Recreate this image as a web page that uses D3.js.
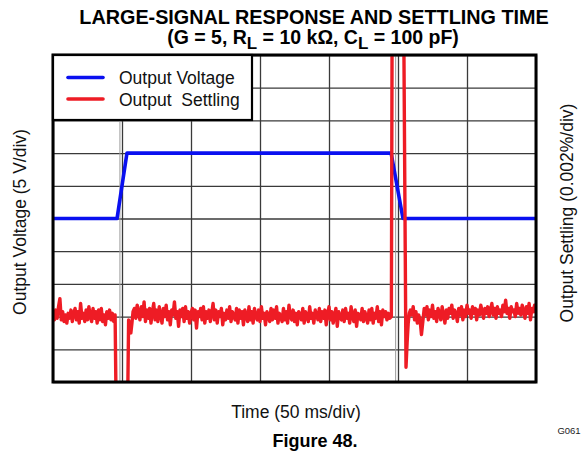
<!DOCTYPE html>
<html><head><meta charset="utf-8">
<script src="https://cdn.jsdelivr.net/npm/d3@7"></script>
<style>
html,body{margin:0;padding:0;background:#fff;}
text{font-family:"Liberation Sans",Arial,sans-serif;}
</style></head>
<body>
<script>
// ---- data ----
const timeTicks = [0, 50, 100, 150, 200, 250, 300, 350];           // ms (50 ms/div)
const voltTicks = [-25, -20, -15, -10, -5, 0, 5, 10, 15, 20, 25];  // V (5 V/div)
const triggerMarks = [48.5, 248.3];                                 // ms

const voltTime = [0, 46.4, 53.6, 245, 253.6, 350];
const voltValue = [0, 0, 10, 10, 0, 0];

// Output settling, sample times (ms)
const settleTime = [
  0,1,2,3,4,5,6,7,8,9,10,11,12,13,14,15,16,17,18,19,20,21,22,23,24,25,26,27,28,29,
  30,31,32,33,34,35,36,37,38,39,40,41,42,43,44,45,
  45.8,54.0,54.8,55.6,56.4,57.2,58,
  59,60,61,62,63,64,65,66,67,68,69,70,71,72,73,74,75,76,77,78,79,80,81,82,83,84,85,86,87,88,
  89,90,91,92,93,94,95,96,97,98,99,100,101,102,103,104,105,106,107,108,109,110,111,112,113,114,115,116,117,118,
  119,120,121,122,123,124,125,126,127,128,129,130,131,132,133,134,135,136,137,138,139,140,141,142,143,144,145,146,147,148,
  149,150,151,152,153,154,155,156,157,158,159,160,161,162,163,164,165,166,167,168,169,170,171,172,173,174,175,176,177,178,
  179,180,181,182,183,184,185,186,187,188,189,190,191,192,193,194,195,196,197,198,199,200,201,202,203,204,205,206,207,208,
  209,210,211,212,213,214,215,216,217,218,219,220,221,222,223,224,225,226,227,228,229,230,231,232,233,234,235,236,237,238,
  239,240,241,242,243,244,
  245.2,245.8,254.0,255.8,256.6,257.4,258.2,
  259,260,261,262,263,264,265,266,267,268,269,270,271,272,273,274,275,276,277,278,279,280,281,282,283,284,285,286,287,288,
  289,290,291,292,293,294,295,296,297,298,299,300,301,302,303,304,305,306,307,308,309,310,311,312,313,314,315,316,317,318,
  319,320,321,322,323,324,325,326,327,328,329,330,331,332,333,334,335,336,337,338,339,340,341,342,343,344,345,346,347,348,
  349,350
];
// Output settling values (units of 0.0001 %)
const settleValue = [
  2,-2,4,-1,6,11,-2,3,-3,1,-4,2,-1,4,-3,2,5,-2,3,-4,8,-1,2,-3,4,-2,6,0,-3,5,
  -1,3,-4,4,-2,5,-3,1,-5,3,-1,4,-2,2,-3,1,
  -60,-60,-2,-7,-10,-4,3,
  5,-1,7,2,-2,6,0,9,-3,4,-1,5,-4,3,8,-2,4,-3,6,1,-4,5,0,7,-2,3,-5,4,1,9,
  -1,3,-6,4,0,5,-3,6,-1,3,-4,2,5,-2,4,-7,3,0,5,-2,6,-4,3,-1,4,-3,2,8,-2,4,
  -4,3,0,5,-5,2,-2,4,-1,6,-3,3,0,-2,5,-4,4,-1,3,-5,4,1,-3,6,-2,3,-4,5,0,-2,
  4,-3,6,-1,2,-5,3,1,-3,5,-2,4,-1,6,-4,2,0,-3,5,-2,3,-4,7,0,-2,4,-3,2,-5,3,
  1,-2,5,-4,3,0,-3,6,-1,2,-4,4,1,-2,5,-3,3,-1,4,-5,2,6,-2,3,-4,1,5,-6,3,0,
  -2,4,-3,5,-1,2,-4,6,0,-3,4,-6,2,1,-2,5,-3,3,0,-4,4,-2,5,-4,2,-1,6,-3,3,-5,
  4,0,3,-2,2,-1,
  0,200,200,-31,-16,-4,2,
  4,1,6,-2,3,-4,1,-2,-11,-3,5,1,6,-2,4,0,7,-1,3,-3,5,2,-2,6,1,-4,4,-1,5,2,
  7,-1,4,2,-3,5,1,6,-2,4,0,7,2,4,-1,6,2,5,-2,4,1,7,3,-1,5,2,6,0,4,8,
  1,5,-1,6,2,4,0,7,3,10,2,5,-1,6,3,4,0,8,2,5,1,7,3,-1,6,2,8,-2,5,3,
  7,2
];

const legendItems = [
  {label: "Output Voltage", color: "#0a10f0"},
  {label: "Output  Settling", color: "#ee1c25"}
];

// ---- layout ----
const W = 587, H = 461;
const L = 53, R = 536, T = 55, B = 382;

const svg = d3.select("body").append("svg").attr("width", W).attr("height", H);

const x = d3.scaleLinear().domain([0, 350]).range([L, R]);
const yV = d3.scaleLinear().domain([-25, 25]).range([B, T]);
const yS = d3.scaleLinear().domain([-0.004, 0.016]).range([B, T]);

// grid via axes
svg.append("g").attr("transform", `translate(0,${B})`)
  .call(d3.axisBottom(x).tickValues(timeTicks).tickSize(-(B - T)).tickFormat(""))
  .call(g => g.select(".domain").remove())
  .call(g => g.selectAll("line").attr("stroke", "#3a3a3a").attr("stroke-width", 1.3));
svg.append("g").attr("transform", `translate(${L},0)`)
  .call(d3.axisLeft(yV).tickValues(voltTicks).tickSize(-(R - L)).tickFormat(""))
  .call(g => g.select(".domain").remove())
  .call(g => g.selectAll("line").attr("stroke", "#3a3a3a").attr("stroke-width", 1.3));

svg.append("g").selectAll("line").data(triggerMarks).join("line")
  .attr("x1", d => x(d)).attr("x2", d => x(d)).attr("y1", T).attr("y2", B)
  .attr("stroke", "#9a9a9a").attr("stroke-width", 1);

svg.append("clipPath").attr("id", "clip").append("rect")
  .attr("x", L).attr("y", T).attr("width", R - L).attr("height", B - T);

const plot = svg.append("g").attr("clip-path", "url(#clip)");

const voltLine = d3.line().x((d, i) => x(voltTime[i])).y(d => yV(d));
plot.append("path").datum(voltValue).attr("d", voltLine)
  .attr("fill", "none").attr("stroke", legendItems[0].color).attr("stroke-width", 3.6)
  .attr("stroke-linejoin", "round");

const settleLine = d3.line().x((d, i) => x(settleTime[i])).y(d => yS(d * 0.0001));
plot.append("path").datum(settleValue).attr("d", settleLine)
  .attr("fill", "none").attr("stroke", legendItems[1].color).attr("stroke-width", 3.4)
  .attr("stroke-linejoin", "round");

// frame
svg.append("rect").attr("x", L).attr("y", T).attr("width", R - L).attr("height", B - T)
  .attr("fill", "none").attr("stroke", "#000").attr("stroke-width", 3);

// legend
const lg = svg.append("g");
lg.append("rect").attr("x", L).attr("y", T).attr("width", 199).attr("height", 65)
  .attr("fill", "#fff").attr("stroke", "#000").attr("stroke-width", 2.2);
lg.selectAll("line.leg").data(legendItems).join("line").attr("class", "leg")
  .attr("x1", 68).attr("x2", 103)
  .attr("y1", (d, i) => 77.5 + i * 21.5).attr("y2", (d, i) => 77.5 + i * 21.5)
  .attr("stroke", d => d.color).attr("stroke-width", 3.6).attr("stroke-linecap", "round");
lg.selectAll("text.leg").data(legendItems).join("text").attr("class", "leg")
  .attr("x", 119).attr("y", (d, i) => 84 + i * 21.5)
  .attr("font-size", 17.5).attr("fill", "#111").style("white-space", "pre")
  .text(d => d.label);

// titles
svg.append("text").attr("x", 314).attr("y", 24).attr("text-anchor", "middle")
  .attr("font-size", 19.8).attr("font-weight", "bold").text("LARGE-SIGNAL RESPONSE AND SETTLING TIME");
const t2 = svg.append("text").attr("x", 313).attr("y", 44).attr("text-anchor", "middle")
  .attr("font-size", 19.5).attr("font-weight", "bold");
t2.append("tspan").text("(G = 5, R");
t2.append("tspan").attr("dy", 5).attr("font-size", 17).text("L");
t2.append("tspan").attr("dy", -5).text(" = 10 kΩ, C");
t2.append("tspan").attr("dy", 5).attr("font-size", 17).text("L");
t2.append("tspan").attr("dy", -5).text(" = 100 pF)");

svg.append("text").attr("transform", "translate(26,222) rotate(-90)").attr("text-anchor", "middle")
  .attr("font-size", 17.5).attr("fill", "#111").text("Output Voltage (5 V/div)");
svg.append("text").attr("transform", "translate(573,213) rotate(-90)").attr("text-anchor", "middle")
  .attr("font-size", 17.5).attr("fill", "#111").text("Output Settling (0.002%/div)");
svg.append("text").attr("x", 296).attr("y", 418).attr("text-anchor", "middle")
  .attr("font-size", 17.5).attr("fill", "#111").text("Time (50 ms/div)");
svg.append("text").attr("x", 315).attr("y", 447).attr("text-anchor", "middle")
  .attr("font-size", 18).attr("font-weight", "bold").text("Figure 48.");
svg.append("text").attr("x", 569).attr("y", 434).attr("text-anchor", "middle")
  .attr("font-size", 9.5).attr("fill", "#222").text("G061");
</script>
</body></html>
